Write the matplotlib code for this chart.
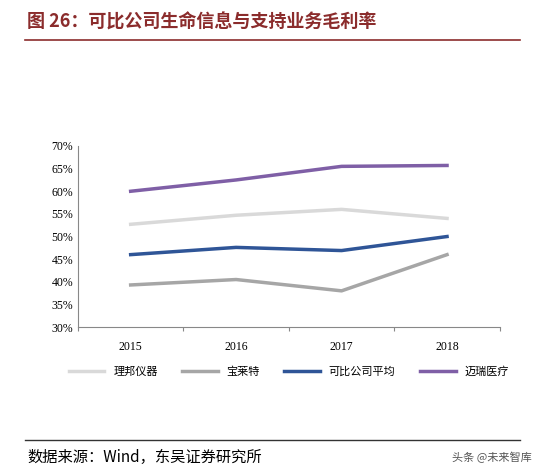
import matplotlib
matplotlib.use("Agg")
import matplotlib.pyplot as plt
from matplotlib.lines import Line2D
plt.rcParams['font.family'] = ['Noto Sans CJK SC', 'DejaVu Sans']

years = ['2015', '2016', '2017', '2018']
names = ['理邦仪器', '宝莱特', '可比公司平均', '迈瑞医疗']
libang = [52.7, 54.7, 56.0, 54.0]
baolaite = [39.3, 40.5, 38.0, 46.0]
avg = [46.0, 47.6, 46.9, 50.0]
mindray = [60.0, 62.5, 65.5, 65.7]
colors = ['#d9d9d9', '#a6a6a6', '#2f5597', '#7f5fa6']
yticks = [30, 35, 40, 45, 50, 55, 60, 65, 70]

fig = plt.figure(figsize=(5.45, 4.74), dpi=100)
ax = fig.add_axes([0.143, 0.31, 0.774, 0.382])
x = range(len(years))
for vals, c, n in zip([libang, baolaite, avg, mindray], colors, names):
    ax.plot(x, vals, color=c, lw=2.5, label=n)
ax.set_xlim(-0.5, 3.5)
ax.set_ylim(30, 70)
ax.set_yticks(yticks)
ax.set_yticklabels([f'{v}%' for v in yticks], family='Liberation Serif', fontsize=8.5)
ax.set_xticks([-0.5, 0.5, 1.5, 2.5, 3.5])
ax.set_xticklabels([])
ax.set_xticks(list(x), minor=True)
ax.set_xticklabels(years, minor=True, family='Liberation Serif', fontsize=8.5)
ax.tick_params(axis='x', which='minor', length=0, pad=10)
ax.tick_params(axis='x', which='major', length=3, direction='out', color='#888888')
ax.tick_params(axis='y', length=0)
for s in ['top', 'right']:
    ax.spines[s].set_visible(False)
for s in ['left', 'bottom']:
    ax.spines[s].set_color('#888888')
ax.legend(loc='upper center', bbox_to_anchor=(0.5, -0.16), ncol=4, frameon=False,
          fontsize=8, handlelength=3.2, columnspacing=2.2)

fig.text(0.05, 0.953, '图 26：可比公司生命信息与支持业务毛利率', fontsize=13, fontweight='bold',
         color='#8b2c2c', va='center')
fig.add_artist(Line2D([0.045, 0.955], [0.915, 0.915], color='#8b2c2c', lw=1.2))
fig.add_artist(Line2D([0.045, 0.955], [0.072, 0.072], color='#333333', lw=1.0))
fig.text(0.05, 0.035, '数据来源：Wind，东吴证券研究所', fontsize=11, va='center')
fig.text(0.83, 0.035, '头条 @未来智库', fontsize=8, va='center', color='#555555')
fig.savefig('out.png', dpi=100)
